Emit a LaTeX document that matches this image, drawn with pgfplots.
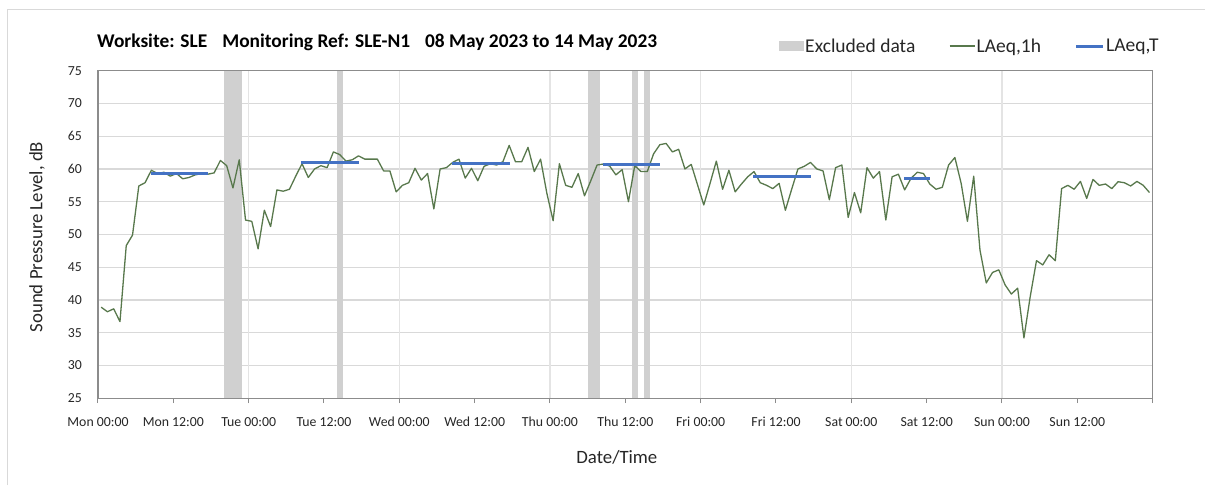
\documentclass[border=0pt]{standalone}
\usepackage{fontspec}
\setmainfont{Carlito}
\usepackage{pgfplots}
\pgfplotsset{compat=1.18}
\definecolor{excl}{RGB}{208,208,208}
\definecolor{lineGreen}{RGB}{88,120,76}
\definecolor{laeqBlue}{RGB}{68,114,196}
\definecolor{gridH}{RGB}{217,217,217}
\definecolor{gridV}{RGB}{228,228,228}
\definecolor{axisGray}{RGB}{140,140,140}
\definecolor{frameGray}{RGB}{217,217,217}
\definecolor{txt}{RGB}{38,38,38}
\begin{document}
\begin{tikzpicture}
\useasboundingbox (0pt,0pt) rectangle (1205pt,-485pt);
\draw[color=frameGray, line width=0.8pt] (7pt,-485pt) -- (7pt,-9pt) -- (1205pt,-9pt);
\node[anchor=base west, inner sep=0pt, font=\fontsize{19.4}{22}\selectfont\bfseries] at (97pt,-47.3pt)
  {Worksite: SLE\hspace{15pt}Monitoring Ref: SLE-N1\hspace{15pt}08 May 2023 to 14 May 2023};
\begin{axis}[
  at={(98pt,-398.2pt)}, anchor=south west,
  scale only axis, width=1054.6pt, height=327.5pt,
  xmin=0, xmax=168, ymin=25, ymax=75,
  no markers,
  xtick={0,12,...,168},
  xticklabels={Mon 00:00,Mon 12:00,Tue 00:00,Tue 12:00,Wed 00:00,Wed 12:00,Thu 00:00,Thu 12:00,Fri 00:00,Fri 12:00,Sat 00:00,Sat 12:00,Sun 00:00,Sun 12:00,{}},
  ytick={25,30,...,75},
  extra x ticks={24,48,72,96,120,144},
  extra x tick labels={},
  extra x tick style={grid=major, major grid style={color=gridV, line width=1.6pt}},
  ymajorgrids=true,
  major grid style={color=gridH, line width=1.2pt},
  axis line style={color=axisGray, line width=1.1pt},
  tick align=outside,
  xtick pos=bottom,
  major tick length=5pt,
  x tick style={color=axisGray, line width=1pt},
  ytick style={draw=none},
  /pgf/number format/assume math mode=true,
  tick label style={font=\fontsize{13.8}{15}\selectfont, text=txt},
  xticklabel style={anchor=base, yshift=-22.8pt},
  yticklabel style={anchor=east, inner sep=0pt, xshift=-11pt},
  xlabel={Date/Time},
  ylabel={Sound Pressure Level, dB},
  label style={font=\fontsize{18.8}{22}\selectfont, text=txt},
  xlabel style={at={(axis description cs:0.492,-0.1795)}, anchor=center},
  ylabel style={at={(axis description cs:-0.0578,0.492)}, anchor=center},
  legend columns=3,
  legend style={at={(axis description cs:0.6453,1.0754)}, anchor=west, draw=none, fill=none,
    inner sep=0pt, font=\fontsize{19.5}{22}\selectfont, text=txt,
    nodes={inner sep=1.5pt},
    /tikz/every even column/.append style={column sep=32pt}},
]
% Excluded data bands
\addplot[fill=excl, draw=none, legend image code/.code={\fill[excl] (0pt,-5pt) rectangle (25pt,5pt);}]
  coordinates {(20,25) (20,75) (23,75) (23,25)} -- cycle;
\addlegendentry{Excluded data}
\addplot[fill=excl, draw=none, forget plot] coordinates {(38,25) (38,75) (39,75) (39,25)} -- cycle;
\addplot[fill=excl, draw=none, forget plot] coordinates {(78,25) (78,75) (80,75) (80,25)} -- cycle;
\addplot[fill=excl, draw=none, forget plot] coordinates {(85,25) (85,75) (86,75) (86,25)} -- cycle;
\addplot[fill=excl, draw=none, forget plot] coordinates {(87,25) (87,75) (88,75) (88,25)} -- cycle;
% LAeq,1h
\addplot[color=lineGreen, line width=1.3pt, line join=round,
  legend image code/.code={\draw[color=lineGreen, line width=1.3pt] (0pt,0pt) -- (25pt,0pt);}]
coordinates {
(0.5,38.9) (1.5,38.2) (2.5,38.65) (3.5,36.7) (4.5,48.3) (5.5,49.9) (6.5,57.4) (7.5,57.9)
(8.5,59.8) (9.5,59.3) (10.5,59.5) (11.5,58.9) (12.5,59.3) (13.5,58.5) (14.5,58.7) (15.5,59.1)
(16.5,59.3) (17.5,59.2) (18.5,59.4) (19.5,61.3) (20.5,60.5) (21.5,57.1) (22.5,61.4) (23.5,52.2)
(24.5,52.0) (25.5,47.8) (26.5,53.7) (27.5,51.2) (28.5,56.8) (29.5,56.6) (30.5,56.9) (31.5,58.9)
(32.5,60.8) (33.5,58.7) (34.5,60.0) (35.5,60.5) (36.5,60.2) (37.5,62.6) (38.5,62.2) (39.5,61.2)
(40.5,61.4) (41.5,62.0) (42.5,61.5) (43.5,61.5) (44.5,61.5) (45.5,59.7) (46.5,59.7) (47.5,56.5)
(48.5,57.5) (49.5,57.9) (50.5,60.1) (51.5,58.3) (52.5,59.3) (53.5,53.9) (54.5,60.0) (55.5,60.2)
(56.5,61.0) (57.5,61.5) (58.5,58.6) (59.5,60.1) (60.5,58.2) (61.5,60.4) (62.5,60.8) (63.5,60.6)
(64.5,61.1) (65.5,63.6) (66.5,61.1) (67.5,61.1) (68.5,63.3) (69.5,59.6) (70.5,61.5) (71.5,56.3)
(72.5,52.1) (73.5,60.8) (74.5,57.5) (75.5,57.2) (76.5,59.3) (77.5,55.9) (78.5,58.2) (79.5,60.6)
(80.5,60.75) (81.5,60.45) (82.5,59.1) (83.5,59.9) (84.5,55.0) (85.5,60.5) (86.5,59.6) (87.5,59.6)
(88.5,62.3) (89.5,63.7) (90.5,63.9) (91.5,62.6) (92.5,63.0) (93.5,60.0) (94.5,60.7) (95.5,57.6)
(96.5,54.5) (97.5,57.8) (98.5,61.2) (99.5,56.9) (100.5,59.8) (101.5,56.5) (102.5,57.7) (103.5,58.8)
(104.5,59.6) (105.5,57.9) (106.5,57.5) (107.5,57.0) (108.5,57.8) (109.5,53.7) (110.5,56.9) (111.5,60.0)
(112.5,60.4) (113.5,61.0) (114.5,60.0) (115.5,59.7) (116.5,55.3) (117.5,60.2) (118.5,60.6) (119.5,52.6)
(120.5,56.4) (121.5,53.3) (122.5,60.2) (123.5,58.6) (124.5,59.6) (125.5,52.2) (126.5,58.8) (127.5,59.2)
(128.5,56.8) (129.5,58.55) (130.5,59.5) (131.5,59.3) (132.5,57.7) (133.5,56.9) (134.5,57.2) (135.5,60.6)
(136.5,61.75) (137.5,57.8) (138.5,52.0) (139.5,58.9) (140.5,47.6) (141.5,42.6) (142.5,44.2) (143.5,44.6)
(144.5,42.3) (145.5,40.9) (146.5,41.8) (147.5,34.2) (148.5,40.5) (149.5,46.0) (150.5,45.35) (151.5,46.9)
(152.5,46.0) (153.5,57.0) (154.5,57.5) (155.5,56.9) (156.5,58.1) (157.5,55.5) (158.5,58.4) (159.5,57.5)
(160.5,57.7) (161.5,57.0) (162.5,58.05) (163.5,57.9) (164.5,57.4) (165.5,58.1) (166.5,57.5) (167.5,56.4)
};
\addlegendentry{LAeq,1h}
% LAeq,T
\addplot[color=laeqBlue, line width=3pt, unbounded coords=jump,
  legend image code/.code={\draw[color=laeqBlue, line width=3pt] (0pt,0pt) -- (27pt,0pt);}]
coordinates {
(8.4,59.25) (17.6,59.25) (25,nan)
(32.3,61.05) (41.6,61.05) (50,nan)
(56.4,60.9) (65.6,60.9) (75,nan)
(80.4,60.7) (89.6,60.7) (100,nan)
(104.4,58.8) (113.6,58.8) (120,nan)
(128.4,58.55) (132.6,58.55)
};
\addlegendentry{LAeq,T}
\end{axis}
\end{tikzpicture}
\end{document}
